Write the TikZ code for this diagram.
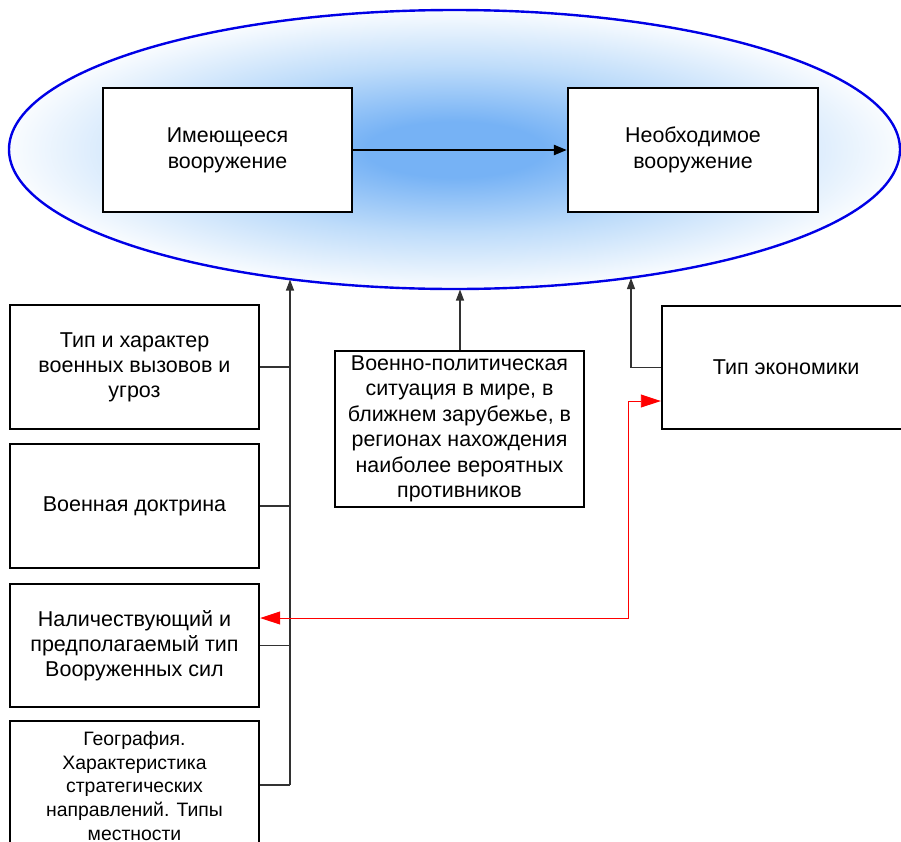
\documentclass[tikz,border=0pt]{standalone}
\usepackage{fontspec}
\setmainfont{Liberation Sans}
\usetikzlibrary{arrows.meta,shapes.geometric}
\definecolor{ellblue}{RGB}{118,178,245}
\definecolor{ellmid}{RGB}{190,220,250}
\definecolor{edgeblue}{RGB}{0,0,230}
\definecolor{conngray}{RGB}{50,50,50}
\pgfdeclareradialshading{ellshade}{\pgfpoint{0bp}{0bp}}{color(0bp)=(ellblue); color(5bp)=(ellblue); color(15bp)=(ellmid); color(26bp)=(white); color(50bp)=(white)}
\tikzset{
  box/.style={draw=black, line width=2.4pt, fill=white, align=center, inner sep=1pt, font=\fontsize{21.5}{25}\selectfont},
  conn/.style={draw=conngray, line width=1.1pt},
  blackarr/.style={conn, -{Triangle[length=11pt,width=8pt]}},
  redarr/.style={draw=red, line width=0.9pt, {Triangle[length=20pt,width=13pt]}-{Triangle[length=20pt,width=13pt]}},
}
\begin{document}
\begin{tikzpicture}[x=1pt,y=-1pt]
\useasboundingbox (0,0) rectangle (901,841);
% ellipse
\node[ellipse, draw=edgeblue, line width=2.4pt, shading=ellshade, minimum width=891pt, minimum height=279pt, inner sep=0pt] (ell) at (454.5,149.5) {};
% top boxes
\node[box, minimum width=249pt, minimum height=124pt, font=\fontsize{21.4}{26}\selectfont] (A) at (227.5,150) {Имеющееся\\вооружение};
\node[box, minimum width=250pt, minimum height=124pt, font=\fontsize{21.4}{26}\selectfont] (B) at (693,150) {Необходимое\\вооружение};
\draw[draw=black, line width=2.4pt, -{Triangle[length=13pt,width=10pt]}] (A.east) -- (B.west);
% left boxes
\node[box, minimum width=249pt, minimum height=124pt] (L1) at (134.5,367) {Тип и характер\\военных вызовов и\\угроз};
\node[box, minimum width=249pt, minimum height=124pt] (L2) at (134.5,506) {Военная доктрина};
\node[box, minimum width=249pt, minimum height=123pt] (L3) at (134.5,645.5) {Наличествующий и\\предполагаемый тип\\Вооруженных сил};
\node[box, minimum width=249pt, minimum height=130pt, font=\fontsize{19.4}{23.8}\selectfont] (L4) at (134.5,786) {География.\\Характеристика\\стратегических\\направлений. Типы\\местности};
% middle box
\node[box, minimum width=249pt, minimum height=156pt, font=\fontsize{21.4}{25.5}\selectfont] (M) at (459.5,429) {Военно-политическая\\ситуация в мире, в\\ближнем зарубежье, в\\регионах нахождения\\наиболее вероятных\\противников};
% economy box
\node[box, minimum width=248pt, minimum height=123pt] (E) at (786,367.5) {Тип экономики};
% connector targets on the ellipse
\coordinate (t1) at (290,279.5);
\coordinate (t2) at (460,289.5);
\coordinate (t3) at (631,278);
\coordinate (j) at (290,785);
% left bus
\draw[blackarr] (j) -- (t1);
\draw[conn] (L1.east) -- (L1.east -| j);
\draw[conn] (L2.east) -- (L2.east -| j);
\draw[conn] (L3.east) -- (L3.east -| j);
\draw[conn] (L4.north east |- j) -- (j);
% middle
\draw[blackarr] (M.north -| t2) -- (t2);
% economy
\draw[blackarr] (E.west) -| (t3);
% red double arrow
\coordinate (rc) at (628,401);
\draw[redarr] ([yshift=27.5pt]L3.east) -| (rc) -- ([yshift=-33.5pt]E.west);
\end{tikzpicture}
\end{document}
